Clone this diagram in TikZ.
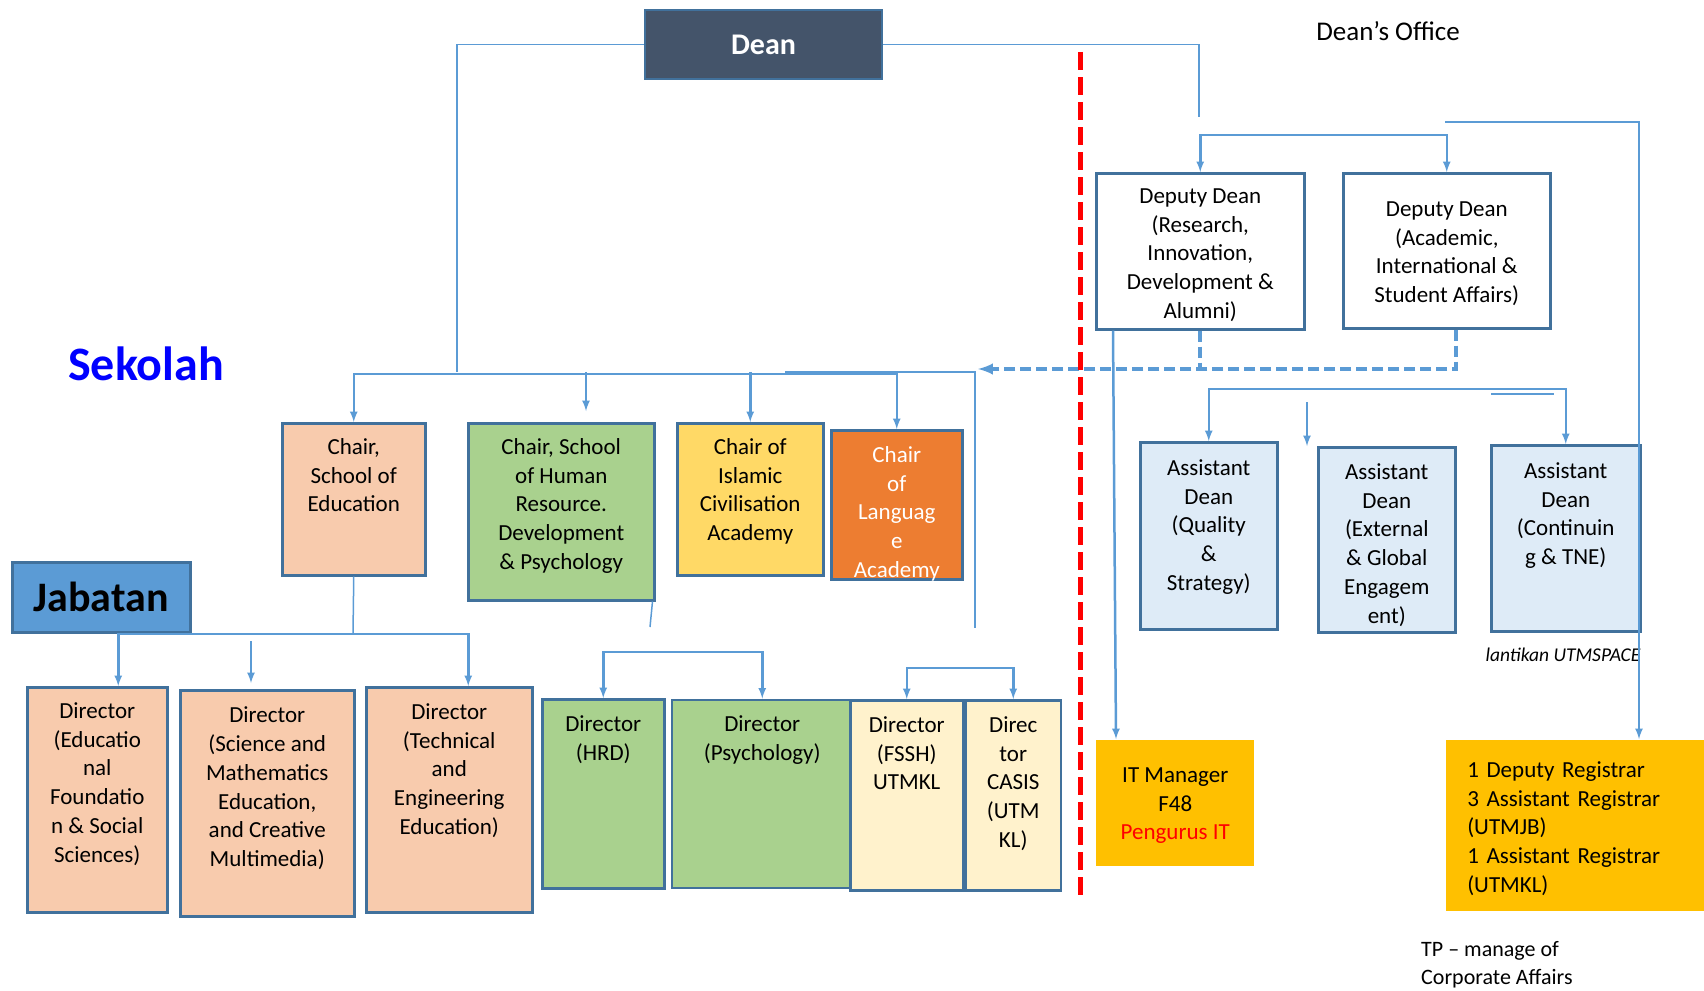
\documentclass[tikz,border=0pt]{standalone}
\usepackage{fontspec}
\setmainfont{Carlito}
\usetikzlibrary{arrows,shapes,positioning}
\usetikzlibrary{calc}
\definecolor{linkblue}{HTML}{5B9BD5}
\definecolor{unitline}{HTML}{41719C}
\definecolor{deanfill}{HTML}{44546A}
\definecolor{peach}{HTML}{F8CBAD}
\definecolor{leaf}{HTML}{A9D18E}
\definecolor{sun}{HTML}{FFD966}
\definecolor{tangerine}{HTML}{ED7D31}
\definecolor{cream}{HTML}{FFF2CC}
\definecolor{pale}{HTML}{DEEBF7}
\definecolor{gold}{HTML}{FFC000}
\newcommand{\unitfont}{\fontsize{23}{28.8}\selectfont}
\tikzstyle{unit} = [
  rectangle, draw=unitline, line width=2.5pt, align=center,
  inner sep=0pt, anchor=north west, font=\unitfont
]
\tikzstyle{link} = [draw=linkblue, line width=2.5pt]
\tikzstyle{thinlink} = [draw=linkblue, line width=1.5pt]
\tikzstyle{dashlink} = [draw=linkblue, line width=4pt, dash pattern=on 11pt off 5pt]

\begin{document}
\begin{tikzpicture}[x=1pt, y=-1pt]
    \useasboundingbox (0,0) rectangle (1704,990);
    % top
    \node[unit, fill=deanfill, text=white, anchor=center, minimum width=237pt,
      minimum height=69pt, font=\bfseries\fontsize{30}{36}\selectfont] (dean) at (763.5,44.5) {Dean};
    \node[font=\fontsize{27}{32}\selectfont] (office) at (1388,31) {Dean’s Office};
    \node[text=blue, font=\bfseries\fontsize{48}{56}\selectfont] (sekolah) at (146,364) {Sekolah};

    % dean's office
    \node[unit, fill=white, minimum width=208pt, text height=145.2pt, text depth=10.8pt] (dd1) at (1095,172)
      {Deputy Dean\\(Research,\\Innovation,\\Development \&\\Alumni)};
    \node[unit, fill=white, minimum width=207pt, text height=129.4pt, text depth=25.6pt] (dd2) at (1342,172)
      {Deputy Dean\\(Academic,\\International \&\\Student Affairs)};
    \node[unit, fill=pale, minimum width=137pt, text height=148.2pt, text depth=38.8pt] (ad1) at (1139,441)
      {Assistant\\Dean\\(Quality\\\&\\Strategy)};
    \node[unit, fill=pale, minimum width=137pt, text height=176pt, text depth=9pt] (ad2) at (1317,446)
      {Assistant\\Dean\\(External\\\& Global\\Engagem\\ent)};
    \node[unit, fill=pale, minimum width=149pt, text height=119.4pt, text depth=66.6pt] (ad3) at (1490,444)
      {Assistant\\Dean\\(Continuin\\g \& TNE)};
    \node[unit, draw=none, fill=gold, minimum width=158pt, text height=99.6pt, text depth=26.4pt] (itman) at (1095,739)
      {IT Manager\\F48\\\textcolor{red}{Pengurus IT}};
    \node[unit, draw=none, fill=gold, align=left, inner xsep=21pt, text width=238pt,
      text height=37pt, text depth=134pt] (reg) at (1445,739)
      {1 Deputy Registrar\\3 Assistant Registrar\\(UTMJB)\\1 Assistant Registrar\\(UTMKL)};
    \node[font=\itshape\fontsize{19.5}{23}\selectfont] (utmspace) at (1563,655) {lantikan UTMSPACE};
    \node[anchor=north west, inner sep=0pt, align=left, font=\fontsize{22}{28}\selectfont] (tpnote) at (1421,941)
      {TP -- manage of\\Corporate Affairs};

    % sekolah
    \node[unit, fill=peach, minimum width=143pt, text height=88.6pt, text depth=63.4pt] (chairedu) at (281,422)
      {Chair,\\School of\\Education};
    \node[unit, fill=leaf, minimum width=186pt, text height=146.2pt, text depth=30.8pt] (chairhr) at (467,422)
      {Chair, School\\of Human\\Resource.\\Development\\\& Psychology};
    \node[unit, fill=sun, minimum width=146pt, text height=117.4pt, text depth=34.6pt] (chairisl) at (676,422)
      {Chair of\\Islamic\\Civilisation\\Academy};
    \node[unit, fill=tangerine, text=white, minimum width=131pt, text height=147.2pt, text depth=1.8pt] (chairlang) at (830,429)
      {Chair\\of\\Languag\\e\\Academy};

    % jabatan
    \node[unit, fill=linkblue, minimum width=178pt, minimum height=70pt,
      font=\bfseries\fontsize{42}{50}\selectfont] (jabatan) at (11,561) {Jabatan};
    \node[unit, fill=peach, minimum width=140pt, text height=175pt, text depth=50pt] (direduf) at (26,686)
      {Director\\(Educatio\\nal\\Foundatio\\n \& Social\\Sciences)};
    \node[unit, fill=peach, minimum width=174pt, text height=176.5pt, text depth=49.5pt] (dirsci) at (179,689)
      {Director\\(Science and\\Mathematics\\Education,\\and Creative\\Multimedia)};
    \node[unit, fill=peach, minimum width=166pt, text height=147.2pt, text depth=77.8pt] (dirtech) at (365,686)
      {Director\\(Technical\\and\\Engineering\\Education)};
    \node[unit, fill=leaf, minimum width=122pt, text height=60.8pt, text depth=128.2pt] (dirhrd) at (541,698)
      {Director\\(HRD)};
    \node[unit, fill=leaf, minimum width=181pt, text height=60.8pt, text depth=127.2pt, right=5pt of dirhrd] (dirpsy)
      {Director\\(Psychology)};
    \node[unit, fill=cream, minimum width=113pt, text height=89.6pt, text depth=100.4pt] (dirfssh) at (849,699)
      {Director\\(FSSH)\\UTMKL};
    \node[unit, fill=cream, minimum width=95pt, text height=147.2pt, text depth=42.8pt, right=0pt of dirfssh] (dircasis)
      {Direc\\tor\\CASIS\\(UTM\\KL)};

    % free ends
    \coordinate (sbus) at (457,372);
    \coordinate (ddtop) at (1199,117);
    \coordinate (regstart) at (1445,122);
    \coordinate (dashend) at (978,369);
    \coordinate (langstub) at (785,372);
    \coordinate (deptend) at (975,628);
    \coordinate (hrstub) at (586,372);
    \coordinate (adstub) at (1307,402);
    \coordinate (adbar) at (1491,394);
    \coordinate (adbarend) at (1554,394);
    \coordinate (scistub) at (251,641);
    \coordinate (jbus) at (353,634);
    \coordinate (hrend) at (650,627);

    % dean lines
    \draw[thinlink] (dean.west) -| (sbus);
    \draw[thinlink] (dean.east) -| (ddtop);
    \draw[link, latex-latex] (dd1.north) -- ++(0,-37) -| (dd2.north);
    \draw[link, -latex] (regstart) -| ([xshift=194pt]reg.north west);
    \draw[dashlink] (dd1.south) -- (dd1.south |- dashend);
    \draw[dashlink, -latex] ([xshift=9pt]dd2.south) |- (dashend);
    \draw[link, -latex] ([xshift=18pt]dd1.south west) -- ([xshift=21pt]itman.north west);
    \draw[link, latex-latex] (ad1.north) -- ++(0,-52) -| (ad3.north);
    \draw[link, -latex] (adstub) -- (adstub |- ad2.north);
    \draw[thinlink] (adbar) -- (adbarend);

    % sekolah lines
    \draw[link, latex-latex] (chairedu.north) -- ++(0,-48) -| (chairlang.north);
    \draw[link, -latex] (hrstub) -- ++(0,39);
    \draw[link, -latex] (chairisl.north |- sbus) -- (chairisl.north);
    \draw[thinlink] (langstub) -| (deptend);

    % jabatan lines
    \draw[thinlink] (chairedu.south) -- (jbus);
    \draw[link, latex-latex] ([xshift=21pt]direduf.north) -- ++(0,-52) -| ([xshift=19pt]dirtech.north);
    \draw[link, -latex] (scistub) -- ++(0,42);
    \draw[thinlink] ([xshift=-3pt]chairhr.south east) -- (hrend);
    \draw[link, latex-latex] (dirhrd.north) -- ++(0,-46) -| (dirpsy.north);
    \draw[link, latex-latex] (dirfssh.north) -- ++(0,-31) -| (dircasis.north);

    % divider
    \draw[red, line width=5pt, dash pattern=on 18pt off 7pt] (1080,52) -- (1080,897);
  \end{tikzpicture}
\end{document}
